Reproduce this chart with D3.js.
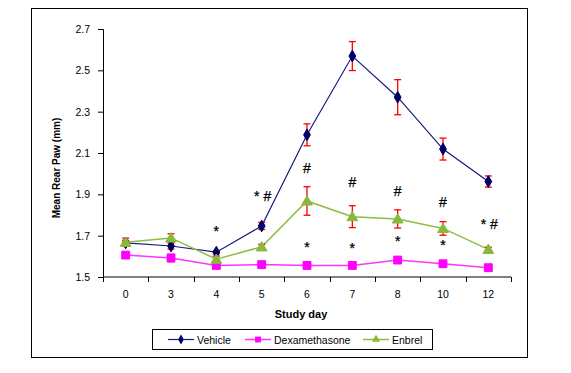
<!DOCTYPE html>
<html>
<head>
<meta charset="utf-8">
<script src="https://cdn.jsdelivr.net/npm/d3@7"></script>
<style>
  body { margin: 0; background: #fff; }
  text { font-family: "Liberation Sans", Arial, sans-serif; }
</style>
</head>
<body>
<div id="chart"></div>
<script>
// data
let days = ["0", "3", "4", "5", "6", "7", "8", "10", "12"];
let vehicle = [1.665, 1.650, 1.620, 1.747, 2.188, 2.569, 2.370, 2.119, 1.962];
let vehicleErr = [0.012, 0.015, 0.008, 0.017, 0.053, 0.070, 0.085, 0.053, 0.027];
let dex = [1.606, 1.592, 1.556, 1.560, 1.556, 1.556, 1.582, 1.564, 1.545];
let dexErr = [0.008, 0.018, 0.010, 0.006, 0.005, 0.005, 0.012, 0.008, 0.010];
let enbrel = [1.668, 1.689, 1.586, 1.646, 1.868, 1.792, 1.781, 1.735, 1.634];
let enbrelErr = [0.020, 0.020, 0.015, 0.012, 0.069, 0.053, 0.044, 0.033, 0.010];
let yTicks = [1.5, 1.7, 1.9, 2.1, 2.3, 2.5, 2.7];

// significance marks (day, text, baseline value)
let annotDays = ["4", "5", "6", "6", "7", "7", "8", "8", "10", "10", "12"];
let annotText = ["*", "* #", "#", "*", "#", "*", "#", "*", "#", "*", "* #"];
let annotY = [1.700, 1.869, 2.002, 1.623, 1.934, 1.615, 1.892, 1.650, 1.840, 1.631, 1.731];

let svgWidth = 571;
let svgHeight = 373;
let margin = { top: 29, right: 60, bottom: 96, left: 103 };
let chartWidth = svgWidth - margin.left - margin.right;
let chartHeight = svgHeight - margin.top - margin.bottom;

let svg = d3.select("#chart")
  .append("svg")
  .attr("width", svgWidth)
  .attr("height", svgHeight);

// outer frame
svg.append("rect")
  .attr("x", 31.5)
  .attr("y", 8.5)
  .attr("width", 496)
  .attr("height", 349)
  .attr("fill", "none")
  .attr("stroke", "#000")
  .attr("stroke-width", 1);

let chartGroup = svg.append("g")
  .attr("transform", `translate(${margin.left}, ${margin.top})`);

let xScale = d3.scaleBand()
  .domain(days)
  .range([0, chartWidth]);

let yScale = d3.scaleLinear()
  .domain([1.5, 2.7])
  .range([chartHeight, 0]);

let cx = (d) => xScale(d) + xScale.bandwidth() / 2;

// axes
let yAxis = d3.axisLeft(yScale)
  .tickValues(yTicks)
  .tickFormat(d3.format(".1f"))
  .tickSize(5)
  .tickPadding(8);

let yG = chartGroup.append("g").call(yAxis);
yG.select(".domain").attr("stroke", "#000");
yG.selectAll(".tick text")
  .attr("font-size", "10.5px")
  .attr("fill", "#000")
  .style("font-family", "'Liberation Sans', Arial, sans-serif");

let xAxis = d3.axisBottom(xScale).tickSize(0).tickPadding(14);
let xG = chartGroup.append("g")
  .attr("transform", `translate(0, ${chartHeight})`)
  .call(xAxis);
xG.select(".domain").attr("d", `M0.5,0H${chartWidth}`).attr("stroke", "#000");
xG.selectAll(".tick text")
  .attr("font-size", "10.5px")
  .attr("fill", "#000")
  .style("font-family", "'Liberation Sans', Arial, sans-serif");

// x ticks sit between the categories
xG.selectAll(".sep")
  .data(d3.range(days.length + 1))
  .enter()
  .append("line")
  .attr("x1", (i) => Math.round(i * xScale.bandwidth()) + 0.5)
  .attr("x2", (i) => Math.round(i * xScale.bandwidth()) + 0.5)
  .attr("y1", 0)
  .attr("y2", 5)
  .attr("stroke", "#000");

// axis titles
chartGroup.append("text")
  .attr("x", 198)
  .attr("y", 289)
  .attr("text-anchor", "middle")
  .attr("font-size", "11px")
  .attr("font-weight", "bold")
  .text("Study day");

chartGroup.append("text")
  .attr("transform", `translate(-43, 139) rotate(-90)`)
  .attr("text-anchor", "middle")
  .attr("font-size", "10px")
  .attr("font-weight", "bold")
  .text("Mean Rear Paw (mm)");

let series = [
  { name: "Vehicle", values: vehicle, err: vehicleErr, line: "#1a1a80", fill: "#000066", width: 1.2, shape: "diamond" },
  { name: "Dexamethasone", values: dex, err: dexErr, line: "#ff33ff", fill: "#ff00ff", width: 1.5, shape: "square" },
  { name: "Enbrel", values: enbrel, err: enbrelErr, line: "#8cbf3f", fill: "#88b83c", width: 1.5, shape: "triangle" },
];

function marker(shape) {
  if (shape === "diamond") return d3.symbol().type(d3.symbolDiamond).size(40)();
  if (shape === "square") return d3.symbol().type(d3.symbolSquare).size(62)();
  return d3.symbol().type(d3.symbolTriangle).size(50)();
}

let line = d3.line()
  .x((d, i) => cx(days[i]))
  .y((d) => yScale(d));

// lines first, then error bars, then markers
series.forEach(function (s) {
  chartGroup.append("path")
    .datum(s.values)
    .attr("d", line)
    .attr("fill", "none")
    .attr("stroke", s.line)
    .attr("stroke-width", s.width);
});

series.forEach(function (s) {
  let g = chartGroup.append("g").attr("stroke", "#ff0000").attr("stroke-width", 1.3);
  s.values.forEach(function (v, i) {
    let x = cx(days[i]);
    let top = yScale(v + s.err[i]);
    let bot = yScale(v - s.err[i]);
    g.append("line").attr("x1", x).attr("x2", x).attr("y1", top).attr("y2", bot);
    g.append("line").attr("x1", x - 3.5).attr("x2", x + 3.5).attr("y1", top).attr("y2", top);
    g.append("line").attr("x1", x - 3.5).attr("x2", x + 3.5).attr("y1", bot).attr("y2", bot);
  });
});

series.forEach(function (s) {
  chartGroup.selectAll(".m-" + s.shape)
    .data(s.values)
    .enter()
    .append("path")
    .attr("class", "m-" + s.shape)
    .attr("d", marker(s.shape))
    .attr("transform", (d, i) => `translate(${cx(days[i])}, ${yScale(d) + (s.shape === "triangle" ? 1 : 0)})`)
    .attr("fill", s.fill)
    .attr("stroke", s.fill)
    .attr("stroke-width", 1);
});

// significance marks
chartGroup.selectAll(".annot")
  .data(annotText)
  .enter()
  .append("text")
  .attr("class", "annot")
  .attr("x", (d, i) => cx(annotDays[i]) + (d.length > 1 ? 1 : 0))
  .attr("y", (d, i) => yScale(annotY[i]))
  .attr("text-anchor", "middle")
  .attr("font-size", "14px")
  .attr("fill", "#000")
  .attr("stroke", "#000")
  .attr("stroke-width", 0.25)
  .text((d) => d);

// legend
let legend = svg.append("g");
legend.append("rect")
  .attr("x", 152.5)
  .attr("y", 329.5)
  .attr("width", 280)
  .attr("height", 20)
  .attr("fill", "#fff")
  .attr("stroke", "#000");

let legendX = [168, 245, 363];
series.forEach(function (s, i) {
  let x0 = legendX[i];
  legend.append("line")
    .attr("x1", x0).attr("x2", x0 + 26)
    .attr("y1", 339.5).attr("y2", 339.5)
    .attr("stroke", s.line)
    .attr("stroke-width", s.width);
  legend.append("path")
    .attr("d", d3.symbol().type(s.shape === "diamond" ? d3.symbolDiamond : s.shape === "square" ? d3.symbolSquare : d3.symbolTriangle).size(s.shape === "square" ? 34 : 28)())
    .attr("transform", `translate(${x0 + 13}, 339.5)`)
    .attr("fill", s.fill);
  legend.append("text")
    .attr("x", x0 + 29)
    .attr("y", 343.5)
    .attr("font-size", "10.5px")
    .text(s.name);
});
</script>
</body>
</html>
